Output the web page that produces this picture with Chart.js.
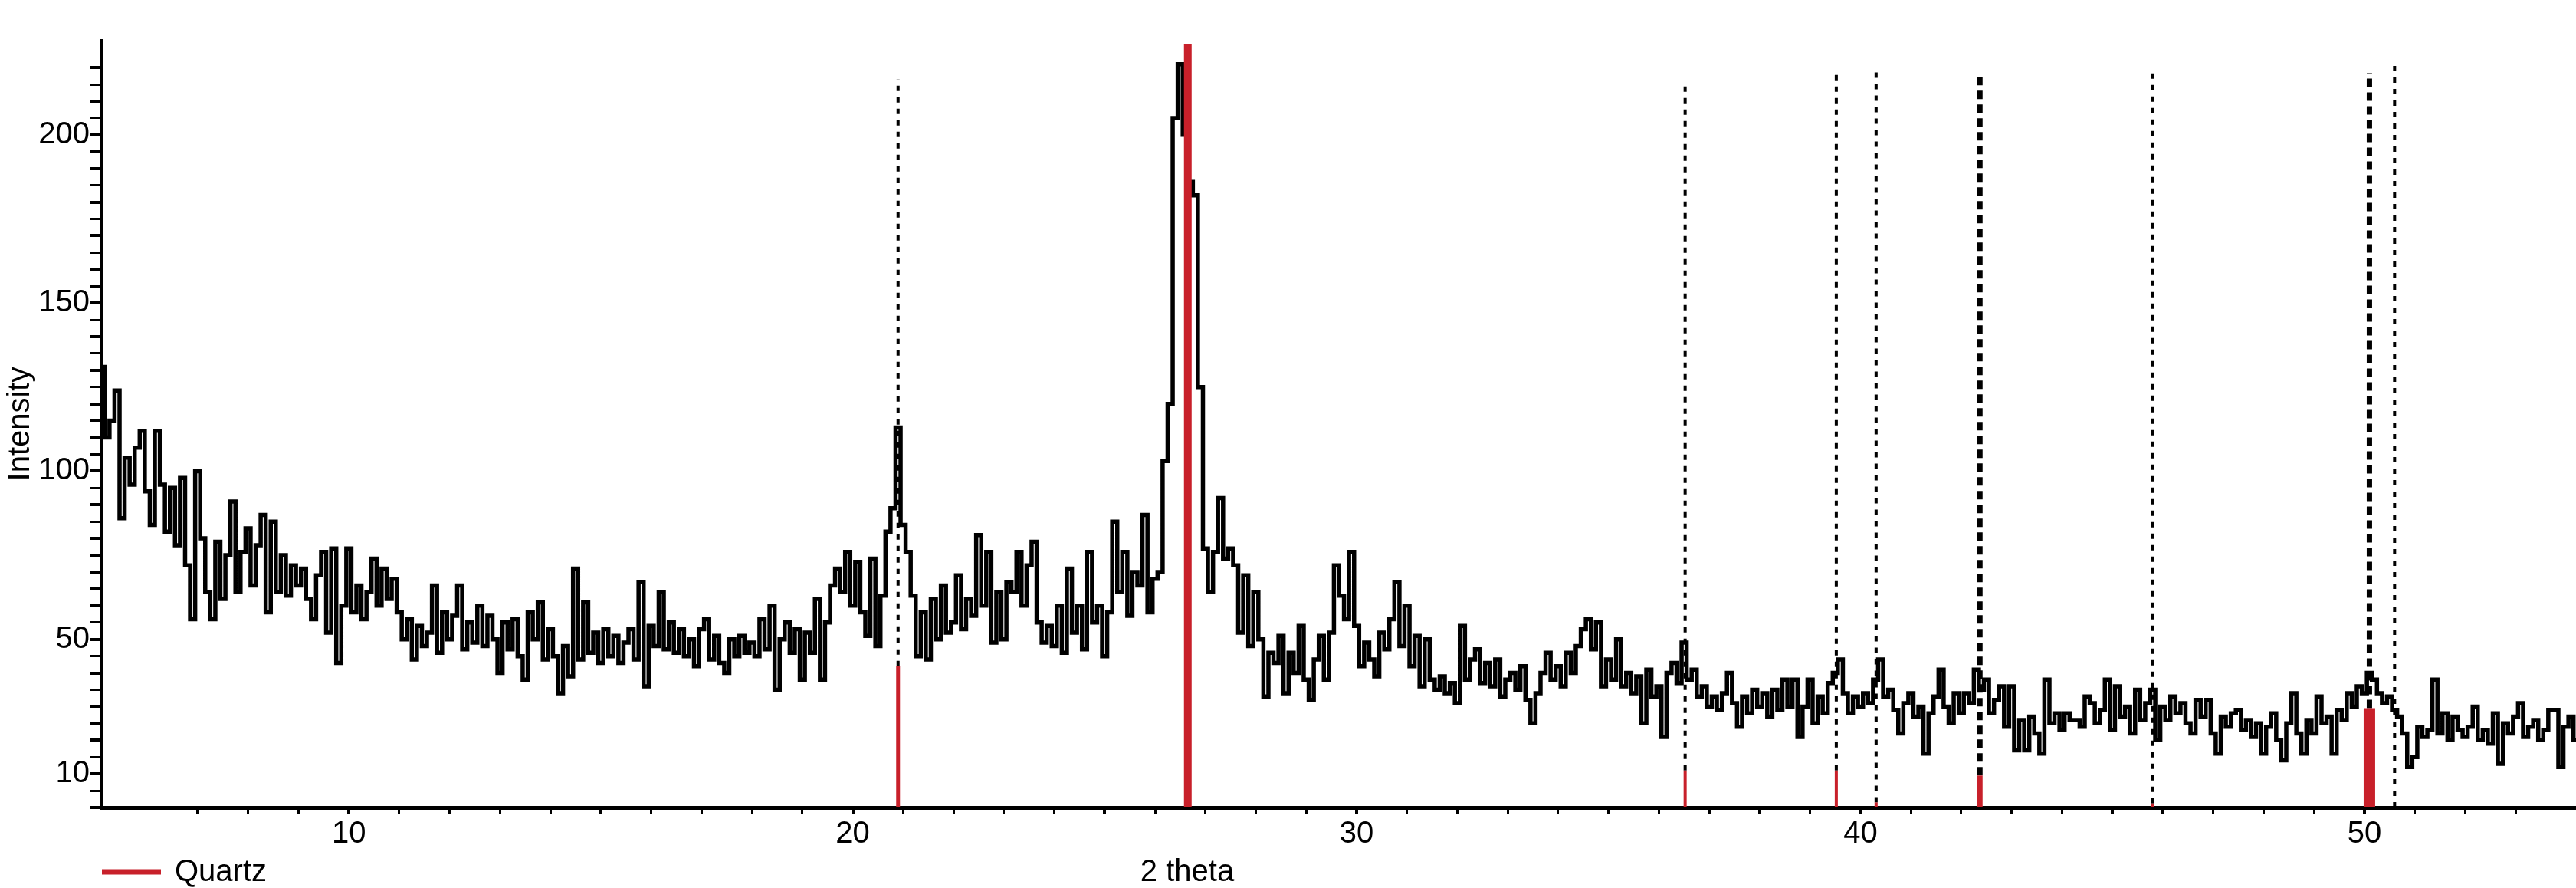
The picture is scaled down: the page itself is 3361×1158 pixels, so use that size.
<!DOCTYPE html>
<html>
<head>
<meta charset="utf-8">
<title>XRD pattern</title>
<script src="https://cdn.jsdelivr.net/npm/chart.js@4.4.1/dist/chart.umd.min.js"></script>
<style>
  html, body { margin: 0; padding: 0; background: #fff; }
  #wrap { width: 3361px; height: 1158px; position: relative; }
</style>
</head>
<body>
<div id="wrap"><canvas id="xrd"></canvas></div>
<script>
// scan grid (degrees 2 theta)
const thetaStart = 5.1;
const thetaStep = 0.1;

// measured counts, one row per degree
const intensity = [
  131, 110, 115, 124, 86, 104, 96, 107, 112,          // 5.1 - 5.9
  94, 84, 112, 96, 82, 95, 78, 98, 72, 56,            // 6
  100, 80, 64, 56, 79, 62, 75, 91, 64, 76,            // 7
  83, 66, 78, 87, 58, 85, 64, 75, 63, 72,             // 8
  66, 71, 62, 56, 69, 76, 52, 77, 43, 60,             // 9
  77, 58, 66, 56, 64, 74, 60, 71, 62, 68,             // 10
  58, 50, 56, 44, 54, 48, 52, 66, 46, 58,             // 11
  50, 57, 66, 47, 55, 49, 60, 48, 57, 50,             // 12
  40, 55, 47, 56, 45, 38, 58, 50, 61, 44,             // 13
  53, 45, 34, 48, 39, 71, 44, 61, 46, 52,             // 14
  43, 53, 45, 51, 43, 49, 53, 44, 67, 36,             // 15
  54, 48, 64, 47, 55, 46, 53, 45, 50, 42,             // 16
  53, 56, 44, 51, 43, 40, 50, 45, 51, 46,             // 17
  49, 45, 56, 47, 60, 35, 50, 55, 46, 53,             // 18
  38, 52, 46, 62, 38, 55, 66, 71, 64, 76,             // 19
  60, 73, 58, 51, 74, 48, 63, 82, 89, 113,            // 20
  84, 76, 63, 45, 58, 44, 62, 50, 66, 52,             // 21
  55, 69, 53, 62, 57, 81, 60, 76, 49, 64,             // 22
  50, 67, 64, 76, 60, 72, 79, 55, 49, 54,             // 23
  48, 60, 46, 71, 52, 60, 47, 76, 55, 60,             // 24
  45, 58, 85, 64, 76, 57, 70, 66, 87, 58,             // 25
  68, 70, 103, 120, 205, 221, 200, 186, 182, 125,     // 26
  77, 64, 76, 92, 74, 77, 72, 52, 69, 48,             // 27
  64, 50, 33, 46, 43, 51, 34, 46, 40, 54,             // 28
  38, 32, 44, 51, 38, 52, 72, 63, 56, 76,             // 29
  54, 42, 49, 44, 39, 52, 47, 56, 67, 48,             // 30
  60, 42, 51, 36, 50, 38, 35, 39, 34, 37,             // 31
  31, 54, 38, 44, 47, 37, 43, 36, 44, 33,             // 32
  38, 40, 35, 42, 32, 25, 34, 40, 46, 38,             // 33
  42, 36, 46, 40, 48, 53, 56, 47, 55, 36,             // 34
  44, 38, 50, 36, 40, 34, 39, 25, 41, 33,             // 35
  36, 21, 40, 43, 37, 49, 38, 41, 33, 36,             // 36
  30, 33, 29, 34, 40, 31, 24, 33, 28, 35,             // 37
  30, 34, 27, 35, 29, 38, 30, 38, 21, 30,             // 38
  38, 25, 33, 28, 37, 40, 44, 34, 28, 33,             // 39
  30, 34, 31, 38, 44, 33, 35, 29, 22, 31,             // 40
  34, 27, 30, 16, 28, 33, 41, 30, 25, 34,             // 41
  28, 34, 31, 41, 35, 38, 28, 32, 36, 24,             // 42
  36, 17, 26, 17, 27, 22, 16, 38, 25, 28,             // 43
  23, 28, 26, 26, 24, 33, 31, 25, 29, 38,             // 44
  23, 36, 27, 30, 22, 35, 26, 31, 35, 20,             // 45
  30, 26, 33, 28, 31, 25, 22, 32, 27, 32,             // 46
  22, 16, 27, 24, 28, 29, 23, 26, 21, 25,             // 47
  16, 24, 28, 20, 14, 25, 34, 22, 16, 26,             // 48
  22, 33, 25, 27, 16, 29, 26, 34, 30, 36,             // 49
  34, 40, 38, 34, 31, 33, 29, 27, 22, 12,             // 50
  15, 24, 21, 23, 38, 22, 28, 20, 27, 23,             // 51
  21, 24, 30, 20, 23, 19, 28, 13, 25, 22,             // 52
  27, 31, 21, 24, 26, 20, 23, 29, 29, 12,             // 53
  24, 27, 20                                          // 54.0 - 54.2
];

// quartz reference pattern
const quartzAngles = [20.9, 26.65, 36.52, 39.52, 40.31, 42.37, 45.8, 50.1, 50.6];
const quartzHeights = [42, 227, 11, 11, 1.5, 9.5, 1.2, 29.5, 0];
const quartzMarkTops = [216.5, null, 216, 219.6, 220, 217.5, 218.4, 218.4, 221.8];

const xTickLabels = [10, 20, 30, 40, 50];
const yTickLabels = [10, 50, 100, 150, 200];

// styles
const quartzRed = '#c8202a';
const stickWidths = [5, 10, 4, 4, 4, 7, 4, 15, 4];
const markWidths = [4, 4, 4, 4, 4, 7, 4, 7, 4];
const fontFamily = '"Liberation Sans", Arial, Helvetica, sans-serif';
const axisFont = { family: fontFamily, size: 40 };

const trace = intensity.map((v, i) => ({ x: +(thetaStart + i * thetaStep).toFixed(2), y: v }));

const datasets = [{
    label: 'pattern',
    data: trace,
    borderColor: '#000',
    borderWidth: 5.5,
    borderJoinStyle: 'miter',
    stepped: 'middle',
    pointRadius: 0,
    order: 2
}];

quartzAngles.forEach((angle, i) => {
    if (quartzHeights[i] > 0) {
        datasets.push({
            label: 'Quartz',
            data: [{ x: angle, y: 0 }, { x: angle, y: quartzHeights[i] }],
            borderColor: quartzRed,
            borderWidth: stickWidths[i],
            borderCapStyle: 'butt',
            pointRadius: 0,
            order: 0
        });
    }
    if (quartzMarkTops[i] !== null) {
        datasets.push({
            label: 'marker',
            data: [{ x: angle, y: quartzHeights[i] }, { x: angle, y: quartzMarkTops[i] }],
            borderColor: '#000',
            borderWidth: markWidths[i],
            borderDash: markWidths[i] > 5 ? [11, 7] : [7, 8],
            borderCapStyle: 'butt',
            pointRadius: 0,
            order: 1
        });
    }
});

// legend entry and x title sit on the same line under the axis
const bottomLabels = {
    id: 'bottomLabels',
    afterDraw(chart) {
        const { ctx, chartArea } = chart;
        ctx.save();
        ctx.strokeStyle = quartzRed;
        ctx.lineWidth = 7;
        ctx.beginPath();
        ctx.moveTo(chartArea.left, 1137);
        ctx.lineTo(chartArea.left + 77, 1137);
        ctx.stroke();
        ctx.fillStyle = '#000';
        ctx.font = '40px ' + fontFamily;
        ctx.textBaseline = 'alphabetic';
        ctx.textAlign = 'left';
        ctx.fillText('Quartz', chartArea.left + 95, 1149);
        ctx.textAlign = 'center';
        ctx.fillText('2 theta', 1549, 1149);
        ctx.restore();
    }
};

new Chart(document.getElementById('xrd'), {
    type: 'line',
    data: { datasets },
    plugins: [bottomLabels],
    options: {
        responsive: true,
        maintainAspectRatio: false,
        animation: false,
        layout: { padding: { top: 53, left: 0, right: 0, bottom: 0 } },
        plugins: {
            legend: { display: false },
            tooltip: { enabled: false }
        },
        scales: {
            x: {
                type: 'linear',
                min: 5.1,
                max: 54.2,
                afterBuildTicks: s => { s.ticks = s.ticks.filter(t => Math.abs(t.value - Math.round(t.value)) < 1e-6); },
                afterFit: s => { s.height = 105; },
                ticks: {
                    stepSize: 1,
                    autoSkip: false,
                    maxRotation: 0,
                    padding: 2,
                    color: '#000',
                    font: axisFont,
                    callback: v => xTickLabels.includes(v) ? String(v) : ''
                },
                grid: {
                    drawOnChartArea: false,
                    tickLength: 9,
                    color: '#000',
                    lineWidth: c => (c.tick && c.tick.value % 5 === 0) ? 4 : 3
                },
                border: { display: true, color: '#000', width: 5 }
            },
            y: {
                min: 0,
                max: 228,
                afterBuildTicks: s => { s.ticks = s.ticks.filter(t => t.value % 5 === 0); },
                afterFit: s => { s.width = 133; },
                ticks: {
                    stepSize: 5,
                    autoSkip: false,
                    padding: 0,
                    color: '#000',
                    font: axisFont,
                    callback: v => yTickLabels.includes(v) ? String(v) : ''
                },
                grid: {
                    drawOnChartArea: false,
                    tickLength: 16,
                    color: '#000',
                    lineWidth: c => (c.tick && c.tick.value % 10 === 0) ? 4 : 3
                },
                border: { display: true, color: '#000', width: 4 },
                title: {
                    display: true,
                    text: 'Intensity',
                    color: '#000',
                    font: axisFont,
                    padding: { top: 3, bottom: 0 }
                }
            }
        }
    }
});
</script>
</body>
</html>
